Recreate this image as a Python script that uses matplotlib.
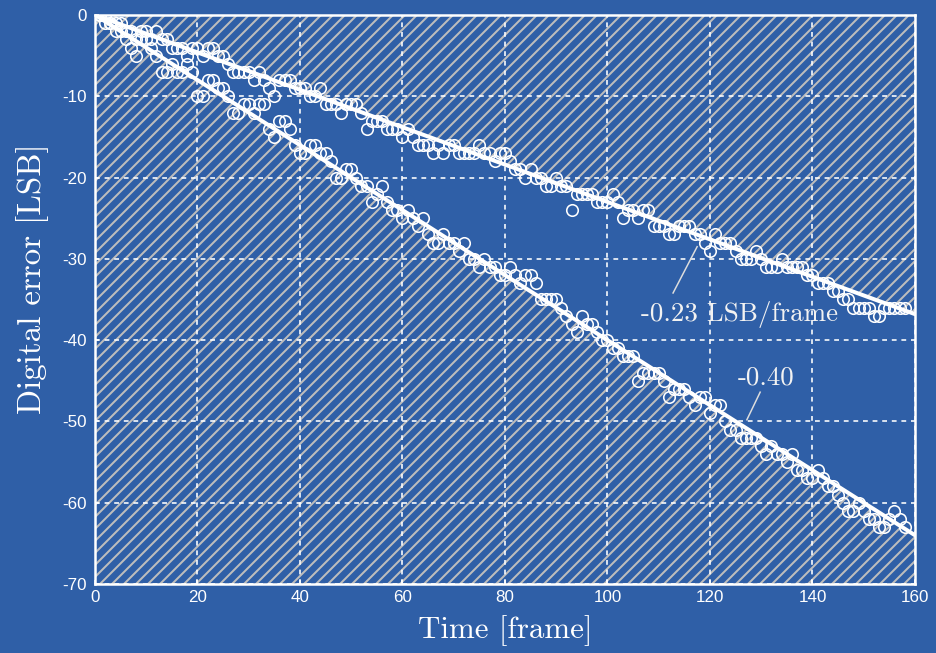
import matplotlib
matplotlib.use("Agg")
import matplotlib.pyplot as plt

# frame index and measured digital error of the two runs
frames = list(range(1, 159))

error_slow = [
    0, 0, -1, -1, -1, -2, -2, -3, -2, -2,
    -3, -2, -3, -3, -4, -4, -4, -5, -4, -4,
    -5, -4, -4, -5, -5, -6, -7, -7, -7, -7,
    -8, -7, -8, -9, -10, -8, -8, -8, -9, -9,
    -9, -10, -10, -9, -11, -11, -11, -12, -11, -11,
    -11, -12, -14, -13, -13, -13, -14, -14, -14, -15,
    -14, -15, -16, -16, -16, -17, -16, -17, -16, -16,
    -17, -17, -17, -17, -16, -17, -17, -18, -17, -17,
    -18, -19, -19, -20, -19, -20, -20, -21, -21, -20,
    -21, -21, -24, -22, -22, -22, -22, -23, -23, -23,
    -22, -23, -25, -24, -24, -25, -24, -24, -26, -26,
    -26, -27, -27, -26, -26, -26, -27, -27, -28, -29,
    -27, -28, -28, -28, -29, -30, -30, -30, -29, -30,
    -31, -31, -31, -30, -31, -31, -31, -31, -32, -32,
    -33, -33, -33, -34, -34, -35, -35, -36, -36, -36,
    -36, -37, -37, -36, -36, -36, -36, -36,
]

error_fast = [
    0, -1, -1, -2, -2, -3, -4, -5, -3, -3,
    -4, -5, -7, -7, -6, -7, -7, -6, -7, -10,
    -10, -8, -8, -9, -9, -10, -12, -12, -11, -11,
    -12, -11, -11, -14, -15, -13, -13, -14, -16, -17,
    -17, -16, -16, -17, -17, -18, -20, -20, -19, -19,
    -20, -21, -21, -23, -22, -21, -23, -24, -24, -25,
    -24, -25, -26, -25, -27, -28, -28, -27, -28, -28,
    -29, -28, -30, -30, -31, -30, -31, -31, -32, -32,
    -31, -32, -33, -32, -32, -33, -35, -35, -35, -35,
    -36, -37, -38, -39, -37, -38, -38, -39, -40, -40,
    -41, -41, -42, -42, -42, -45, -44, -44, -44, -44,
    -45, -47, -46, -46, -46, -47, -48, -47, -47, -49,
    -48, -48, -50, -51, -51, -52, -52, -52, -52, -53,
    -54, -53, -54, -54, -55, -54, -56, -56, -57, -57,
    -56, -57, -58, -58, -59, -60, -61, -61, -60, -61,
    -62, -62, -63, -63, -62, -61, -62, -63,
]

fit_slopes = [-0.23, -0.40]
fit_range = [0, 160]
fit_labels = ["-0.23 LSB/frame", "-0.40"]

# label anchor and leader line end points, in data units
label_pos = [(106.5, -36.9), (131, -44.6)]
leader_x = [[112.8, 117.5], [129.8, 127.2]]
leader_y = [[-34.2, -28.5], [-46.4, -49.8]]

x_ticks = [0, 20, 40, 60, 80, 100, 120, 140, 160]
y_ticks = [0, -10, -20, -30, -40, -50, -60, -70]

BG = "#2f5fa7"
HATCH = "#bdbdbd"

plt.rcParams["axes.unicode_minus"] = False
plt.rcParams["hatch.linewidth"] = 2.0

fig = plt.figure(figsize=(936 / 72, 653 / 72), dpi=72, facecolor=BG)
ax = fig.add_axes([0.1015, 0.1057, 0.876, 0.8713])
ax.set_facecolor(BG)

fit_slow = [s * fit_slopes[0] for s in fit_range]
fit_fast = [s * fit_slopes[1] for s in fit_range]

# hatched regions outside the two fits
ax.fill_between(fit_range, fit_slow, [0, 0], facecolor="none",
                edgecolor=HATCH, hatch="//", linewidth=0, zorder=0)
ax.fill_between(fit_range, fit_fast, [-70, -70], facecolor="none",
                edgecolor=HATCH, hatch="//", linewidth=0, zorder=0)

ax.grid(True, color="white", linestyle=(0, (3, 3)), linewidth=1.6)
ax.set_axisbelow(True)

ax.plot(frames, error_slow, "o", mfc="none", mec="white", ms=11.5, mew=1.6, zorder=3)
ax.plot(frames, error_fast, "o", mfc="none", mec="white", ms=11.5, mew=1.6, zorder=3)
ax.plot(fit_range, fit_slow, color="white", linewidth=4, zorder=4)
ax.plot(fit_range, fit_fast, color="white", linewidth=4, zorder=4)

for i in range(2):
    ax.plot(leader_x[i], leader_y[i], color="#dddddd", linewidth=1.5, zorder=5)
ax.text(*label_pos[0], fit_labels[0], color="#f2f2f2", fontsize=27,
        family="cmr10", va="center", ha="left", zorder=6)
ax.text(*label_pos[1], fit_labels[1], color="#f2f2f2", fontsize=27,
        family="cmr10", va="center", ha="center", zorder=6)

ax.set_xlim(0, 160)
ax.set_ylim(-70, 0)
ax.set_xticks(x_ticks)
ax.set_yticks(y_ticks)
ax.tick_params(colors="white", labelcolor="white", labelsize=17,
               direction="in", length=4, width=1.5)
ax.tick_params(axis="x", pad=6)
ax.tick_params(axis="y", pad=8)
for lab in ax.get_xticklabels() + ax.get_yticklabels():
    lab.set_family("Liberation Sans")
for sp in ax.spines.values():
    sp.set_color("white")
    sp.set_linewidth(2.5)

ax.set_xlabel("Time [frame]", color="white", fontsize=31, family="cmr10", labelpad=10)
ax.set_ylabel("Digital error [LSB]", color="white", fontsize=33, family="cmr10", labelpad=14)
ax.yaxis.label.set_y(0.536)

fig.savefig("out.png", dpi=72, facecolor=BG)
